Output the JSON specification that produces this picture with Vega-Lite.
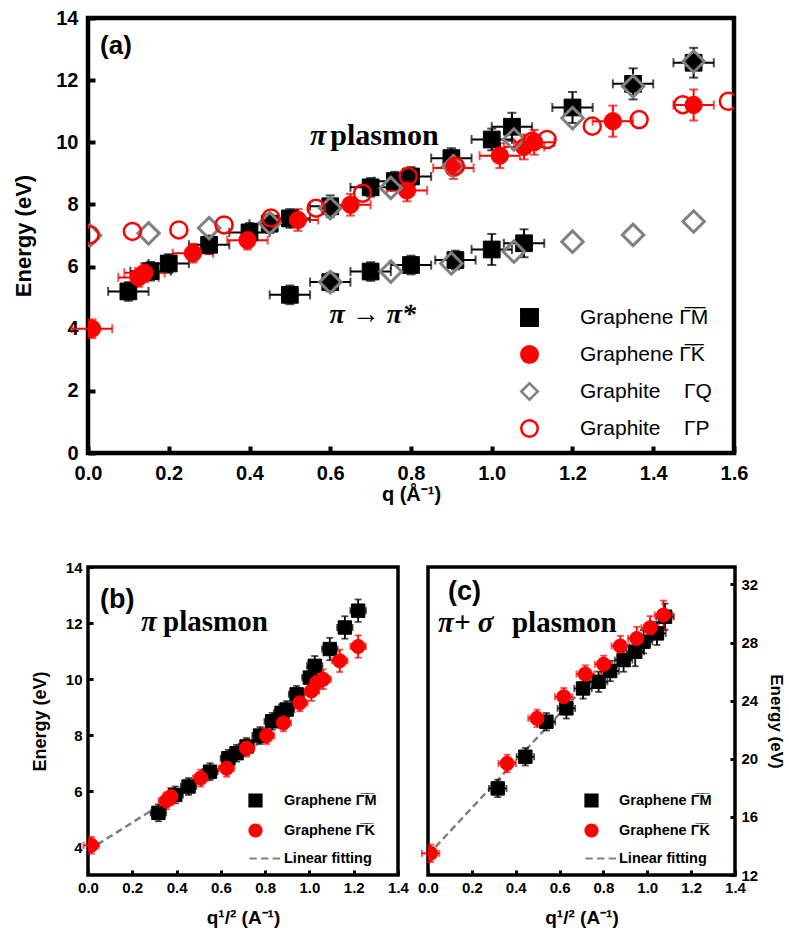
{
"$schema":"https://vega.github.io/schema/vega-lite/v6.json",
"padding":{"left":10,"top":5,"right":5,"bottom":5},
"background":"white",
"bounds":"flush",
"spacing":114,
"resolve":{"scale":{"shape":"independent","fill":"independent","stroke":"independent"},"legend":{"shape":"independent","fill":"independent","stroke":"independent"}},
"config":{
 "font":"Liberation Sans",
 "axis":{"grid":false,"domain":false,"tickColor":"black","labelColor":"black","titleColor":"black","labelFont":"Liberation Sans","titleFont":"Liberation Sans","labelFontWeight":"bold","titleFontWeight":"bold","labelFlush":false,"labelOverlap":false,"labelBound":false},
 "legend":{"symbolOpacity":1,"labelFont":"Liberation Sans","labelFontSize":15,"labelColor":"black","labelLimit":300,"padding":0},
 "point":{"opacity":1}
},
"datasets":{
 "a":[
  {"s":"GM","q":0.10,"E":5.2,"dq":0.05,"dE":0.3},
  {"s":"GM","q":0.155,"E":5.85,"dq":0.05,"dE":0.3},
  {"s":"GM","q":0.20,"E":6.1,"dq":0.05,"dE":0.3},
  {"s":"GM","q":0.30,"E":6.7,"dq":0.05,"dE":0.3},
  {"s":"GM","q":0.40,"E":7.1,"dq":0.05,"dE":0.3},
  {"s":"GM","q":0.45,"E":7.38,"dq":0.05,"dE":0.3},
  {"s":"GM","q":0.50,"E":7.55,"dq":0.05,"dE":0.3},
  {"s":"GM","q":0.60,"E":7.94,"dq":0.05,"dE":0.35},
  {"s":"GM","q":0.70,"E":8.55,"dq":0.05,"dE":0.3},
  {"s":"GM","q":0.76,"E":8.75,"dq":0.05,"dE":0.3},
  {"s":"GM","q":0.80,"E":8.9,"dq":0.05,"dE":0.3},
  {"s":"GM","q":0.90,"E":9.49,"dq":0.05,"dE":0.32},
  {"s":"GM","q":1.00,"E":10.09,"dq":0.05,"dE":0.35},
  {"s":"GM","q":1.05,"E":10.5,"dq":0.05,"dE":0.45},
  {"s":"GM","q":1.20,"E":11.12,"dq":0.05,"dE":0.5},
  {"s":"GM","q":1.35,"E":11.88,"dq":0.05,"dE":0.5},
  {"s":"GM","q":1.50,"E":12.56,"dq":0.05,"dE":0.48},
  {"s":"GM","q":0.50,"E":5.09,"dq":0.05,"dE":0.3},
  {"s":"GM","q":0.60,"E":5.5,"dq":0.05,"dE":0.3},
  {"s":"GM","q":0.70,"E":5.84,"dq":0.05,"dE":0.3},
  {"s":"GM","q":0.80,"E":6.05,"dq":0.05,"dE":0.3},
  {"s":"GM","q":0.91,"E":6.21,"dq":0.05,"dE":0.3},
  {"s":"GM","q":1.00,"E":6.55,"dq":0.05,"dE":0.5},
  {"s":"GM","q":1.08,"E":6.75,"dq":0.05,"dE":0.45},
  {"s":"GK","q":0.01,"E":4.0,"dq":0.05,"dE":0.3},
  {"s":"GK","q":0.125,"E":5.65,"dq":0.05,"dE":0.3},
  {"s":"GK","q":0.14,"E":5.8,"dq":0.05,"dE":0.3},
  {"s":"GK","q":0.26,"E":6.43,"dq":0.05,"dE":0.3},
  {"s":"GK","q":0.395,"E":6.85,"dq":0.05,"dE":0.3},
  {"s":"GK","q":0.52,"E":7.5,"dq":0.05,"dE":0.35},
  {"s":"GK","q":0.65,"E":7.99,"dq":0.05,"dE":0.35},
  {"s":"GK","q":0.79,"E":8.45,"dq":0.05,"dE":0.35},
  {"s":"GK","q":0.905,"E":9.17,"dq":0.05,"dE":0.35},
  {"s":"GK","q":1.02,"E":9.57,"dq":0.05,"dE":0.4},
  {"s":"GK","q":1.08,"E":9.85,"dq":0.05,"dE":0.4},
  {"s":"GK","q":1.105,"E":10.0,"dq":0.05,"dE":0.4},
  {"s":"GK","q":1.30,"E":10.68,"dq":0.05,"dE":0.5},
  {"s":"GK","q":1.50,"E":11.2,"dq":0.05,"dE":0.5},
  {"s":"TQ","q":0.005,"E":7.0},
  {"s":"TQ","q":0.15,"E":7.07},
  {"s":"TQ","q":0.30,"E":7.24},
  {"s":"TQ","q":0.45,"E":7.4},
  {"s":"TQ","q":0.60,"E":7.88},
  {"s":"TQ","q":0.75,"E":8.53},
  {"s":"TQ","q":0.905,"E":9.23},
  {"s":"TQ","q":1.055,"E":10.09},
  {"s":"TQ","q":1.20,"E":10.78},
  {"s":"TQ","q":1.35,"E":11.8},
  {"s":"TQ","q":1.50,"E":12.6},
  {"s":"TQ","q":0.60,"E":5.5},
  {"s":"TQ","q":0.75,"E":5.84},
  {"s":"TQ","q":0.90,"E":6.1},
  {"s":"TQ","q":1.055,"E":6.48},
  {"s":"TQ","q":1.20,"E":6.8},
  {"s":"TQ","q":1.35,"E":7.02},
  {"s":"TQ","q":1.50,"E":7.45},
  {"s":"TP","q":0.005,"E":7.02},
  {"s":"TP","q":0.11,"E":7.13},
  {"s":"TP","q":0.225,"E":7.18},
  {"s":"TP","q":0.337,"E":7.34},
  {"s":"TP","q":0.453,"E":7.56},
  {"s":"TP","q":0.565,"E":7.88},
  {"s":"TP","q":0.68,"E":8.36},
  {"s":"TP","q":0.793,"E":8.9},
  {"s":"TP","q":0.91,"E":9.23},
  {"s":"TP","q":1.10,"E":10.03},
  {"s":"TP","q":1.137,"E":10.09},
  {"s":"TP","q":1.249,"E":10.52},
  {"s":"TP","q":1.365,"E":10.73},
  {"s":"TP","q":1.473,"E":11.21},
  {"s":"TP","q":1.586,"E":11.32}
 ],
 "b":[
  {"s":"LF","r":0,"E":3.88},
  {"s":"LF","r":0.82,"E":7.95},
  {"s":"GM","r":0.318,"E":5.22,"dr":0.035,"dE":0.3},
  {"s":"GM","r":0.394,"E":5.86,"dr":0.035,"dE":0.3},
  {"s":"GM","r":0.454,"E":6.16,"dr":0.035,"dE":0.3},
  {"s":"GM","r":0.551,"E":6.69,"dr":0.035,"dE":0.3},
  {"s":"GM","r":0.634,"E":7.17,"dr":0.035,"dE":0.3},
  {"s":"GM","r":0.671,"E":7.35,"dr":0.035,"dE":0.3},
  {"s":"GM","r":0.716,"E":7.59,"dr":0.035,"dE":0.3},
  {"s":"GM","r":0.777,"E":7.98,"dr":0.035,"dE":0.3},
  {"s":"GM","r":0.832,"E":8.49,"dr":0.035,"dE":0.3},
  {"s":"GM","r":0.874,"E":8.79,"dr":0.035,"dE":0.3},
  {"s":"GM","r":0.897,"E":8.91,"dr":0.035,"dE":0.3},
  {"s":"GM","r":0.942,"E":9.45,"dr":0.035,"dE":0.3},
  {"s":"GM","r":1.002,"E":10.05,"dr":0.035,"dE":0.35},
  {"s":"GM","r":1.024,"E":10.47,"dr":0.035,"dE":0.35},
  {"s":"GM","r":1.092,"E":11.07,"dr":0.035,"dE":0.4},
  {"s":"GM","r":1.16,"E":11.84,"dr":0.035,"dE":0.4},
  {"s":"GM","r":1.22,"E":12.44,"dr":0.035,"dE":0.4},
  {"s":"GK","r":0.015,"E":4.06,"dr":0.035,"dE":0.3},
  {"s":"GK","r":0.354,"E":5.65,"dr":0.035,"dE":0.3},
  {"s":"GK","r":0.374,"E":5.8,"dr":0.035,"dE":0.3},
  {"s":"GK","r":0.509,"E":6.46,"dr":0.035,"dE":0.3},
  {"s":"GK","r":0.626,"E":6.81,"dr":0.035,"dE":0.3},
  {"s":"GK","r":0.716,"E":7.53,"dr":0.035,"dE":0.3},
  {"s":"GK","r":0.807,"E":7.98,"dr":0.035,"dE":0.3},
  {"s":"GK","r":0.882,"E":8.43,"dr":0.035,"dE":0.3},
  {"s":"GK","r":0.957,"E":9.15,"dr":0.035,"dE":0.3},
  {"s":"GK","r":1.009,"E":9.57,"dr":0.035,"dE":0.35},
  {"s":"GK","r":1.032,"E":9.87,"dr":0.035,"dE":0.35},
  {"s":"GK","r":1.062,"E":9.99,"dr":0.035,"dE":0.35},
  {"s":"GK","r":1.137,"E":10.65,"dr":0.035,"dE":0.4},
  {"s":"GK","r":1.22,"E":11.16,"dr":0.035,"dE":0.4}
 ],
 "c":[
  {"s":"LF","r":0,"E":13.38},
  {"s":"LF","r":0.748,"E":25.5},
  {"s":"GM","r":0.318,"E":17.96,"dr":0.04,"dE":0.6},
  {"s":"GM","r":0.444,"E":20.14,"dr":0.04,"dE":0.6},
  {"s":"GM","r":0.54,"E":22.55,"dr":0.04,"dE":0.6},
  {"s":"GM","r":0.631,"E":23.47,"dr":0.04,"dE":0.7},
  {"s":"GM","r":0.707,"E":24.84,"dr":0.04,"dE":0.7},
  {"s":"GM","r":0.778,"E":25.3,"dr":0.04,"dE":0.7},
  {"s":"GM","r":0.831,"E":26.04,"dr":0.04,"dE":0.7},
  {"s":"GM","r":0.892,"E":26.79,"dr":0.04,"dE":0.8},
  {"s":"GM","r":0.945,"E":27.37,"dr":0.04,"dE":1.0},
  {"s":"GM","r":0.983,"E":28.06,"dr":0.04,"dE":0.8},
  {"s":"GM","r":1.044,"E":28.63,"dr":0.04,"dE":0.8},
  {"s":"GM","r":1.081,"E":29.78,"dr":0.04,"dE":0.9},
  {"s":"GK","r":0.012,"E":13.49,"dr":0.04,"dE":0.6},
  {"s":"GK","r":0.361,"E":19.68,"dr":0.04,"dE":0.6},
  {"s":"GK","r":0.497,"E":22.78,"dr":0.04,"dE":0.6},
  {"s":"GK","r":0.619,"E":24.27,"dr":0.04,"dE":0.6},
  {"s":"GK","r":0.717,"E":25.83,"dr":0.04,"dE":0.6},
  {"s":"GK","r":0.801,"E":26.5,"dr":0.04,"dE":0.6},
  {"s":"GK","r":0.877,"E":27.76,"dr":0.04,"dE":0.7},
  {"s":"GK","r":0.952,"E":28.28,"dr":0.04,"dE":0.8},
  {"s":"GK","r":1.013,"E":29.02,"dr":0.04,"dE":0.8},
  {"s":"GK","r":1.074,"E":29.89,"dr":0.04,"dE":1.0}
 ]
},
"vconcat":[
 {
  "width":646,"height":435,
  "view":{"stroke":"black","strokeWidth":4.5},
  "data":{"name":"a"},
  "layer":[
   {
    "encoding":{
     "x":{"field":"q","type":"quantitative","scale":{"domain":[0,1.6],"nice":false,"zero":false},
          "axis":{"values":[0,0.2,0.4,0.6,0.8,1,1.2,1.4,1.6],"format":".1f","labelFontSize":20,"labelPadding":17,"tickSize":-7,"tickWidth":4,"title":"q (\u00c5\u207b\u00b9)","titleFontSize":20,"titlePadding":1}},
     "y":{"field":"E","type":"quantitative","scale":{"domain":[0,14],"nice":false,"zero":false},
          "axis":{"values":[0,2,4,6,8,10,12,14],"labelFontSize":20,"labelPadding":17,"tickSize":-7,"tickWidth":4,"title":"Energy (eV)","titleFontSize":22,"titlePadding":20}}
    },
    "layer":[
     {"transform":[{"filter":"datum.s=='GM'"}],"mark":{"type":"errorbar","ticks":true,"size":9,"thickness":2,"color":"black"},"encoding":{"xError":{"field":"dq"}}},
     {"transform":[{"filter":"datum.s=='GM'"}],"mark":{"type":"errorbar","ticks":true,"size":9,"thickness":2,"color":"black"},"encoding":{"yError":{"field":"dE"}}},
     {"transform":[{"filter":"datum.s=='GK'"}],"mark":{"type":"errorbar","ticks":true,"size":9,"thickness":2,"color":"red"},"encoding":{"xError":{"field":"dq"}}},
     {"transform":[{"filter":"datum.s=='GK'"}],"mark":{"type":"errorbar","ticks":true,"size":9,"thickness":2,"color":"red"},"encoding":{"yError":{"field":"dE"}}},
     {
      "layer":[
       {"transform":[{"filter":"datum.s=='GM'"}],"mark":{"type":"point","size":280,"strokeWidth":1,"opacity":1,"clip":true}},
       {"transform":[{"filter":"datum.s=='GK'"}],"mark":{"type":"point","size":300,"strokeWidth":1,"opacity":1,"clip":true}},
       {"transform":[{"filter":"datum.s=='TQ'"}],"mark":{"type":"point","size":460,"strokeWidth":3,"opacity":1,"clip":true}},
       {"transform":[{"filter":"datum.s=='TP'"}],"mark":{"type":"point","size":290,"strokeWidth":2.5,"opacity":1,"clip":true}}
      ],
      "encoding":{
       "shape":{"field":"s","type":"nominal","scale":{"domain":["GM","GK","TQ","TP"],"range":["square","circle","diamond","circle"]},
         "legend":{"orient":"none","legendX":431,"legendY":289,"title":null,"padding":0,"symbolSize":270,"symbolStrokeWidth":2.5,"symbolOpacity":1,"labelFont":"Liberation Sans","labelFontWeight":"normal","labelFontSize":21,"labelColor":"black","labelOffset":40,"rowPadding":10,"labelLimit":300,
           "labelExpr":"datum.label=='GM'?'Graphene \u0393\u0305M\u0305':datum.label=='GK'?'Graphene \u0393\u0305K\u0305':datum.label=='TQ'?'Graphite\u00a0\u00a0\u00a0 \u0393Q':'Graphite\u00a0\u00a0\u00a0 \u0393P'"}},
       "fill":{"field":"s","type":"nominal","scale":{"domain":["GM","GK","TQ","TP"],"range":["black","red","transparent","transparent"]},
         "legend":{"orient":"none","legendX":431,"legendY":289,"title":null,"padding":0,"symbolSize":270,"symbolStrokeWidth":2.5,"symbolOpacity":1,"labelFont":"Liberation Sans","labelFontWeight":"normal","labelFontSize":21,"labelColor":"black","labelOffset":40,"rowPadding":10,"labelLimit":300,
           "labelExpr":"datum.label=='GM'?'Graphene \u0393\u0305M\u0305':datum.label=='GK'?'Graphene \u0393\u0305K\u0305':datum.label=='TQ'?'Graphite\u00a0\u00a0\u00a0 \u0393Q':'Graphite\u00a0\u00a0\u00a0 \u0393P'"}},
       "stroke":{"field":"s","type":"nominal","scale":{"domain":["GM","GK","TQ","TP"],"range":["black","red","#808080","red"]},
         "legend":{"orient":"none","legendX":431,"legendY":289,"title":null,"padding":0,"symbolSize":270,"symbolStrokeWidth":2.5,"symbolOpacity":1,"labelFont":"Liberation Sans","labelFontWeight":"normal","labelFontSize":21,"labelColor":"black","labelOffset":40,"rowPadding":10,"labelLimit":300,
           "labelExpr":"datum.label=='GM'?'Graphene \u0393\u0305M\u0305':datum.label=='GK'?'Graphene \u0393\u0305K\u0305':datum.label=='TQ'?'Graphite\u00a0\u00a0\u00a0 \u0393Q':'Graphite\u00a0\u00a0\u00a0 \u0393P'"}}
      }
     }
    ]
   },
   {"data":{"values":[{}]},"mark":{"type":"text","text":"(a)","font":"Liberation Sans","fontWeight":"bold","fontSize":26,"align":"left","baseline":"middle"},"encoding":{"x":{"datum":0.03,"type":"quantitative"},"y":{"datum":13.1,"type":"quantitative"}}},
   {"data":{"values":[{}]},"mark":{"type":"text","text":"\u03c0","font":"Liberation Serif","fontWeight":"bold","fontStyle":"italic","fontSize":30,"align":"left","baseline":"middle"},"encoding":{"x":{"datum":0.55,"type":"quantitative"},"y":{"datum":10.2,"type":"quantitative"}}},
   {"data":{"values":[{}]},"mark":{"type":"text","text":"plasmon","font":"Liberation Serif","fontWeight":"bold","fontSize":30,"align":"left","baseline":"middle"},"encoding":{"x":{"datum":0.6,"type":"quantitative"},"y":{"datum":10.2,"type":"quantitative"}}},
   {"data":{"values":[{}]},"mark":{"type":"text","text":"\u03c0 \u2192 \u03c0*","font":"Liberation Serif","fontWeight":"bold","fontStyle":"italic","fontSize":28,"align":"left","baseline":"middle"},"encoding":{"x":{"datum":0.598,"type":"quantitative"},"y":{"datum":4.45,"type":"quantitative"}}}
  ]
 },
 {
  "spacing":30,
  "bounds":"flush",
  "resolve":{"scale":{"shape":"independent","fill":"independent","stroke":"independent"},"legend":{"shape":"independent","fill":"independent","stroke":"independent"}},
  "hconcat":[
   {
    "width":310,"height":308,
    "view":{"stroke":"black","strokeWidth":3.5},
    "data":{"name":"b"},
    "layer":[
     {
      "encoding":{
       "x":{"field":"r","type":"quantitative","scale":{"domain":[0,1.4],"nice":false,"zero":false},
            "axis":{"values":[0,0.2,0.4,0.6,0.8,1,1.2,1.4],"format":".1f","labelFont":"Liberation Sans Narrow, Liberation Sans","labelFontSize":15,"labelPadding":10,"tickSize":-5,"tickWidth":3,"title":"q\u00b9/\u00b2 (A\u207b\u00b9)","titleFontSize":19,"titlePadding":13}},
       "y":{"field":"E","type":"quantitative","scale":{"domain":[3,14],"nice":false,"zero":false},
            "axis":{"values":[4,6,8,10,12,14],"labelFont":"Liberation Sans Narrow, Liberation Sans","labelFontSize":15,"labelPadding":11,"tickSize":-5,"tickWidth":3,"title":"Energy (eV)","titleFontSize":18,"titlePadding":16}}
      },
      "layer":[
       {"transform":[{"filter":"datum.s=='LF'"}],"mark":{"type":"line","color":"#808080","strokeDash":[7,4],"strokeWidth":2.5},"encoding":{}},
       {"transform":[{"filter":"datum.s=='GM'"}],"mark":{"type":"errorbar","ticks":true,"size":7,"thickness":1.8,"color":"black"},"encoding":{"xError":{"field":"dr"}}},
       {"transform":[{"filter":"datum.s=='GM'"}],"mark":{"type":"errorbar","ticks":true,"size":7,"thickness":1.8,"color":"black"},"encoding":{"yError":{"field":"dE"}}},
       {"transform":[{"filter":"datum.s=='GK'"}],"mark":{"type":"errorbar","ticks":true,"size":7,"thickness":1.8,"color":"red"},"encoding":{"xError":{"field":"dr"}}},
       {"transform":[{"filter":"datum.s=='GK'"}],"mark":{"type":"errorbar","ticks":true,"size":7,"thickness":1.8,"color":"red"},"encoding":{"yError":{"field":"dE"}}},
       {
        "layer":[
         {"transform":[{"filter":"datum.s=='GM'"}],"mark":{"type":"point","size":180,"strokeWidth":1,"opacity":1,"clip":true}},
         {"transform":[{"filter":"datum.s=='GK'"}],"mark":{"type":"point","size":200,"strokeWidth":1,"opacity":1,"clip":true}}
        ],
        "encoding":{
         "shape":{"field":"s","type":"nominal","scale":{"domain":["GM","GK","LF"],"range":["square","circle","M-1,0L0.2,0M0.9,0L2.1,0M2.8,0L4,0"]},
           "legend":{"orient":"none","legendX":160,"legendY":226,"title":null,"padding":0,"symbolSize":150,"symbolStrokeWidth":2,"symbolOpacity":1,"labelFont":"Liberation Sans","labelFontWeight":"bold","labelFontSize":14.5,"labelColor":"black","labelOffset":21,"rowPadding":9,"labelLimit":300,
             "labelExpr":"datum.label=='GM'?'Graphene \u0393\u0305M\u0305':datum.label=='GK'?'Graphene \u0393\u0305K\u0305':'Linear fitting'"}},
         "fill":{"field":"s","type":"nominal","scale":{"domain":["GM","GK","LF"],"range":["black","red","transparent"]},
           "legend":{"orient":"none","legendX":160,"legendY":226,"title":null,"padding":0,"symbolSize":150,"symbolStrokeWidth":2,"symbolOpacity":1,"labelFont":"Liberation Sans","labelFontWeight":"bold","labelFontSize":14.5,"labelColor":"black","labelOffset":21,"rowPadding":9,"labelLimit":300,
             "labelExpr":"datum.label=='GM'?'Graphene \u0393\u0305M\u0305':datum.label=='GK'?'Graphene \u0393\u0305K\u0305':'Linear fitting'"}},
         "stroke":{"field":"s","type":"nominal","scale":{"domain":["GM","GK","LF"],"range":["black","red","#808080"]},
           "legend":{"orient":"none","legendX":160,"legendY":226,"title":null,"padding":0,"symbolSize":150,"symbolStrokeWidth":2,"symbolOpacity":1,"labelFont":"Liberation Sans","labelFontWeight":"bold","labelFontSize":14.5,"labelColor":"black","labelOffset":21,"rowPadding":9,"labelLimit":300,
             "labelExpr":"datum.label=='GM'?'Graphene \u0393\u0305M\u0305':datum.label=='GK'?'Graphene \u0393\u0305K\u0305':'Linear fitting'"}}
        }
       }
      ]
     },
     {"data":{"values":[{}]},"mark":{"type":"text","text":"(b)","font":"Liberation Sans","fontWeight":"bold","fontSize":27,"align":"left","baseline":"middle"},"encoding":{"x":{"datum":0.054,"type":"quantitative"},"y":{"datum":12.82,"type":"quantitative"}}},
     {"data":{"values":[{}]},"mark":{"type":"text","text":"\u03c0","font":"Liberation Serif","fontWeight":"bold","fontStyle":"italic","fontSize":29,"align":"left","baseline":"middle"},"encoding":{"x":{"datum":0.239,"type":"quantitative"},"y":{"datum":12.04,"type":"quantitative"}}},
     {"data":{"values":[{}]},"mark":{"type":"text","text":"plasmon","font":"Liberation Serif","fontWeight":"bold","fontSize":29,"align":"left","baseline":"middle"},"encoding":{"x":{"datum":0.339,"type":"quantitative"},"y":{"datum":12.04,"type":"quantitative"}}}
    ]
   },
   {
    "width":307,"height":308,
    "view":{"stroke":"black","strokeWidth":3.5},
    "data":{"name":"c"},
    "layer":[
     {
      "encoding":{
       "x":{"field":"r","type":"quantitative","scale":{"domain":[0,1.4],"nice":false,"zero":false},
            "axis":{"values":[0,0.2,0.4,0.6,0.8,1,1.2,1.4],"format":".1f","labelFont":"Liberation Sans Narrow, Liberation Sans","labelFontSize":15,"labelPadding":10,"tickSize":-5,"tickWidth":3,"title":"q\u00b9/\u00b2 (A\u207b\u00b9)","titleFontSize":19,"titlePadding":13}},
       "y":{"field":"E","type":"quantitative","scale":{"domain":[12,33.2],"nice":false,"zero":false},
            "axis":{"orient":"right","values":[12,16,20,24,28,32],"labelFont":"Liberation Sans Narrow, Liberation Sans","labelFontSize":15,"labelPadding":11,"tickSize":-5,"tickWidth":3,"title":"Energy (eV)","titleFontSize":17,"titlePadding":9}}
      },
      "layer":[
       {"transform":[{"filter":"datum.s=='LF'"}],"mark":{"type":"line","color":"#808080","strokeDash":[7,4],"strokeWidth":2.5},"encoding":{}},
       {"transform":[{"filter":"datum.s=='GM'"}],"mark":{"type":"errorbar","ticks":true,"size":7,"thickness":1.8,"color":"black"},"encoding":{"xError":{"field":"dr"}}},
       {"transform":[{"filter":"datum.s=='GM'"}],"mark":{"type":"errorbar","ticks":true,"size":7,"thickness":1.8,"color":"black"},"encoding":{"yError":{"field":"dE"}}},
       {"transform":[{"filter":"datum.s=='GK'"}],"mark":{"type":"errorbar","ticks":true,"size":7,"thickness":1.8,"color":"red"},"encoding":{"xError":{"field":"dr"}}},
       {"transform":[{"filter":"datum.s=='GK'"}],"mark":{"type":"errorbar","ticks":true,"size":7,"thickness":1.8,"color":"red"},"encoding":{"yError":{"field":"dE"}}},
       {
        "layer":[
         {"transform":[{"filter":"datum.s=='GM'"}],"mark":{"type":"point","size":180,"strokeWidth":1,"opacity":1,"clip":true}},
         {"transform":[{"filter":"datum.s=='GK'"}],"mark":{"type":"point","size":200,"strokeWidth":1,"opacity":1,"clip":true}}
        ],
        "encoding":{
         "shape":{"field":"s","type":"nominal","scale":{"domain":["GM","GK","LF"],"range":["square","circle","M-1,0L0.2,0M0.9,0L2.1,0M2.8,0L4,0"]},
           "legend":{"orient":"none","legendX":156,"legendY":226,"title":null,"padding":0,"symbolSize":150,"symbolStrokeWidth":2,"symbolOpacity":1,"labelFont":"Liberation Sans","labelFontWeight":"bold","labelFontSize":14.5,"labelColor":"black","labelOffset":20,"rowPadding":9,"labelLimit":300,
             "labelExpr":"datum.label=='GM'?'Graphene \u0393\u0305M\u0305':datum.label=='GK'?'Graphene \u0393\u0305K\u0305':'Linear fitting'"}},
         "fill":{"field":"s","type":"nominal","scale":{"domain":["GM","GK","LF"],"range":["black","red","transparent"]},
           "legend":{"orient":"none","legendX":156,"legendY":226,"title":null,"padding":0,"symbolSize":150,"symbolStrokeWidth":2,"symbolOpacity":1,"labelFont":"Liberation Sans","labelFontWeight":"bold","labelFontSize":14.5,"labelColor":"black","labelOffset":20,"rowPadding":9,"labelLimit":300,
             "labelExpr":"datum.label=='GM'?'Graphene \u0393\u0305M\u0305':datum.label=='GK'?'Graphene \u0393\u0305K\u0305':'Linear fitting'"}},
         "stroke":{"field":"s","type":"nominal","scale":{"domain":["GM","GK","LF"],"range":["black","red","#808080"]},
           "legend":{"orient":"none","legendX":156,"legendY":226,"title":null,"padding":0,"symbolSize":150,"symbolStrokeWidth":2,"symbolOpacity":1,"labelFont":"Liberation Sans","labelFontWeight":"bold","labelFontSize":14.5,"labelColor":"black","labelOffset":20,"rowPadding":9,"labelLimit":300,
             "labelExpr":"datum.label=='GM'?'Graphene \u0393\u0305M\u0305':datum.label=='GK'?'Graphene \u0393\u0305K\u0305':'Linear fitting'"}}
        }
       }
      ]
     },
     {"data":{"values":[{}]},"mark":{"type":"text","text":"(c)","font":"Liberation Sans","fontWeight":"bold","fontSize":27,"align":"left","baseline":"middle"},"encoding":{"x":{"datum":0.091,"type":"quantitative"},"y":{"datum":31.5,"type":"quantitative"}}},
     {"data":{"values":[{}]},"mark":{"type":"text","text":"\u03c0+ \u03c3","font":"Liberation Serif","fontWeight":"bold","fontStyle":"italic","fontSize":29,"align":"left","baseline":"middle"},"encoding":{"x":{"datum":0.046,"type":"quantitative"},"y":{"datum":29.35,"type":"quantitative"}}},
     {"data":{"values":[{}]},"mark":{"type":"text","text":"plasmon","font":"Liberation Serif","fontWeight":"bold","fontSize":29,"align":"left","baseline":"middle"},"encoding":{"x":{"datum":0.383,"type":"quantitative"},"y":{"datum":29.35,"type":"quantitative"}}}
    ]
   }
  ]
 }
]
}
